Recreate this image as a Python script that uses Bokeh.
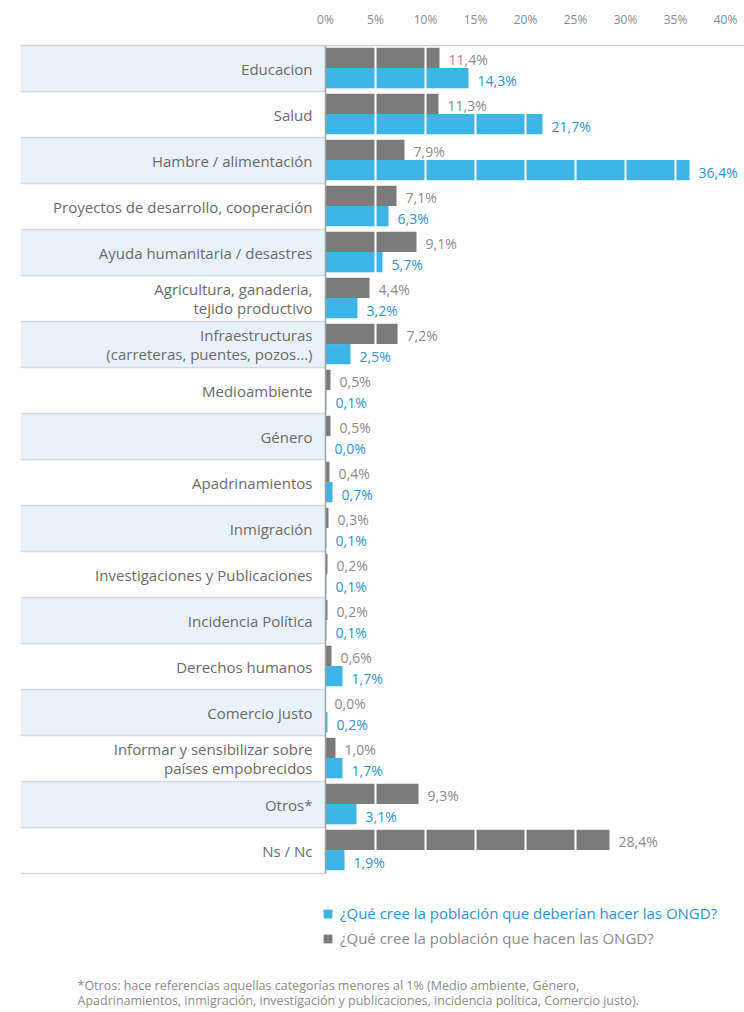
from bokeh.plotting import figure
from bokeh.models import (Range1d, FixedTicker, PrintfTickFormatter, ColumnDataSource,
                          Legend, LegendItem, Label)
from bokeh.core.properties import value
from bokeh.embed import file_html
from bokeh.resources import INLINE

# ---------------- data ----------------
categories = [
    "Educacion",
    "Salud",
    "Hambre / alimentación",
    "Proyectos de desarrollo, cooperación",
    "Ayuda humanitaria / desastres",
    "Agricultura, ganaderia,\ntejido productivo",
    "Infraestructuras\n(carreteras, puentes, pozos...)",
    "Medioambiente",
    "Género",
    "Apadrinamientos",
    "Inmigración",
    "Investigaciones y Publicaciones",
    "Incidencia Política",
    "Derechos humanos",
    "Comercio justo",
    "Informar y sensibilizar sobre\npaíses empobrecidos",
    "Otros*",
    "Ns / Nc",
]
hacen = [11.4, 11.3, 7.9, 7.1, 9.1, 4.4, 7.2, 0.5, 0.5, 0.4, 0.3, 0.2, 0.2, 0.6, 0.0, 1.0, 9.3, 28.4]
deberian = [14.3, 21.7, 36.4, 6.3, 5.7, 3.2, 2.5, 0.1, 0.0, 0.7, 0.1, 0.1, 0.1, 1.7, 0.2, 1.7, 3.1, 1.9]
tick_values = [0, 5, 10, 15, 20, 25, 30, 35, 40]
label_deberian = "¿Qué cree la población que deberían hacer las ONGD?"
label_hacen = "¿Qué cree la población que hacen las ONGD?"
footnote_lines = [
    "*Otros: hace referencias aquellas categorías menores al 1% (Medio ambiente, Género,",
    "Apadrinamientos, inmigración, investigación y publicaciones, incidencia política, Comercio justo).",
]

# ---------------- styling ----------------
FONT = "Open Sans"
GRAY = "#7b7b7b"
BLUE = "#3db4e6"
BLUE_TXT = "#2f93d6"
GRAY_TXT = "#8c8c8c"
CAT_TXT = "#6b6b6b"
BAND = "#e8f2fa"
SEP = "#d3dbe1"

W, H = 744, 1010
TOP = 45          # px above the frame
LEFT = 20         # px left of the frame
ZERO_PX = 305     # 0 % from frame left, px
PX_PER_PCT = 10.0
ROW_PX = 46.0

x_start = -ZERO_PX / PX_PER_PCT
x_end = x_start + (W - LEFT) / PX_PER_PCT
y_top = 0.0
y_bottom = -(H - TOP) / ROW_PX

N = len(categories)
centers = [-(i + 0.5) for i in range(N)]

def fmt(v):
    return ("%.1f" % v).replace(".", ",") + "%"

src = ColumnDataSource(dict(
    cat=categories,
    c=centers,
    yg=[c + 0.23 for c in centers],
    yb=[c - 0.21 for c in centers],
    yg_lab=[c + 0.19 for c in centers],
    yb_lab=[c - 0.25 for c in centers],
    hacen=hacen,
    deberian=deberian,
    hacen_lab=[fmt(v) for v in hacen],
    deberian_lab=[fmt(v) for v in deberian],
    band=[BAND if i % 2 == 0 else "#ffffff" for i in range(N)],
    sep=[-(i + 1) for i in range(N)],
    left=[x_start] * N,
    zero=[0] * N,
))

p = figure(width=W, height=H, output_backend="svg", toolbar_location=None,
           x_range=Range1d(x_start, x_end), y_range=Range1d(y_bottom, y_top),
           x_axis_location="above", y_axis_location=None,
           min_border_left=LEFT, min_border_right=0, min_border_top=TOP, min_border_bottom=0,
           outline_line_color=None, tools="")

# background bands + separators in the label column
p.hbar(y="c", left="left", right="zero", height=1.0, fill_color="band", line_color=None, source=src)
p.segment(x0="left", x1="zero", y0="sep", y1="sep", line_color=SEP, line_width=1.5, source=src)

# bars
r_hacen = p.hbar(y="yg", left=0, right="hacen", height=0.44, fill_color=GRAY, line_color=None, source=src)
r_deb = p.hbar(y="yb", left=0, right="deberian", height=0.44, fill_color=BLUE, line_color=None, source=src)

# white division lines across the bars (at the inner ticks)
inner = [t for t in tick_values if 0 < t < tick_values[-1]]
p.segment(x0=inner, x1=inner, y0=[0] * len(inner), y1=[-N] * len(inner),
          line_color="white", line_width=2)

# zero line
p.segment(x0=[0], x1=[0], y0=[0], y1=[-N], line_color="#a0a0a0", line_width=1.5)

# category labels
p.text(x="zero", y="c", text="cat", x_offset=-13, text_align="right", text_baseline="middle",
       text_font=value(FONT), text_font_size="15px", text_color=CAT_TXT,
       text_line_height=0.95, source=src)
# value labels
p.text(x="hacen", y="yg_lab", text="hacen_lab", x_offset=9, text_align="left",
       text_baseline="middle", text_font=value(FONT), text_font_size="14px",
       text_color=GRAY_TXT, source=src)
p.text(x="deberian", y="yb_lab", text="deberian_lab", x_offset=9, text_align="left",
       text_baseline="middle", text_font=value(FONT), text_font_size="14px",
       text_color=BLUE_TXT, source=src)

# top axis
ax = p.xaxis[0]
ax.ticker = FixedTicker(ticks=tick_values)
ax.formatter = PrintfTickFormatter(format="%d%%")
ax.axis_line_color = "#cfcfcf"
ax.axis_line_width = 1.5
ax.major_tick_line_color = None
ax.minor_tick_line_color = None
ax.major_label_standoff = 12
ax.major_label_text_font = FONT
ax.major_label_text_font_size = "12px"
ax.major_label_text_color = GRAY_TXT

p.xgrid.visible = False
p.ygrid.visible = False

# legends (location = bottom-left corner, px from frame bottom-left)
leg1 = Legend(items=[LegendItem(label=label_deberian, renderers=[r_deb])],
              location=(302, 87), label_text_color=BLUE_TXT)
leg2 = Legend(items=[LegendItem(label=label_hacen, renderers=[r_hacen])],
              location=(302, 62), label_text_color=GRAY_TXT)
for lg in (leg1, leg2):
    lg.border_line_color = None
    lg.background_fill_alpha = 0
    lg.padding = 0
    lg.margin = 0
    lg.spacing = 0
    lg.glyph_width = 11
    lg.glyph_height = 11
    lg.label_standoff = 7
    lg.label_height = 20
    lg.label_text_font = FONT
    lg.label_text_font_size = "15px"
    p.add_layout(lg, "center")

# footnote
for k, line in enumerate(footnote_lines):
    p.add_layout(Label(x=57, y=25 - 15 * k, x_units="screen", y_units="screen", text=line,
                       text_font=FONT, text_font_size="12.5px", text_color=GRAY_TXT,
                       text_baseline="middle"))

open("out.html", "w").write(file_html(p, INLINE))
